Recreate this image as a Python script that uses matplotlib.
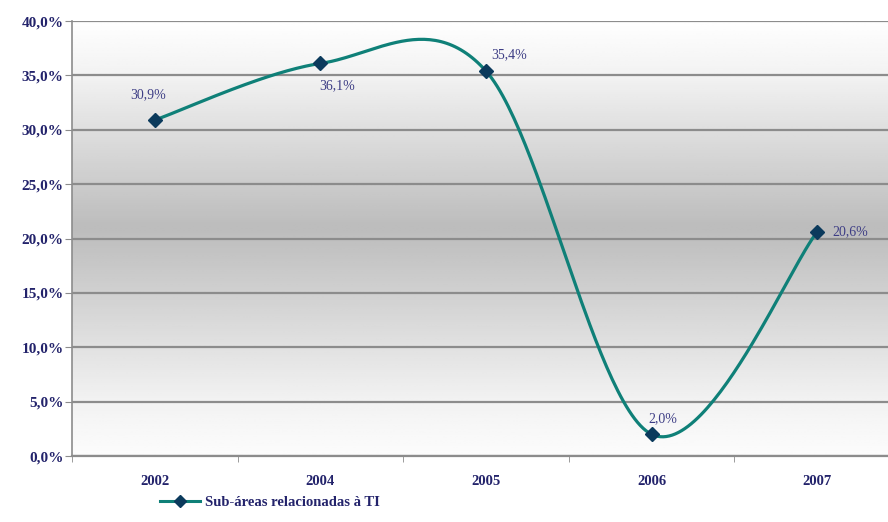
import matplotlib
matplotlib.use("Agg")
import matplotlib.pyplot as plt
import matplotlib.ticker as mticker
from matplotlib.lines import Line2D
import numpy as np

years = ["2002", "2004", "2005", "2006", "2007"]
share = [30.9, 36.1, 35.4, 2.0, 20.6]
labels = ["30,9%", "36,1%", "35,4%", "2,0%", "20,6%"]
# label offsets in points (dx, dy) from each marker
offsets = [(-5, 18), (12, -16), (17, 12), (8, 11), (24, 0)]
series_name = "Sub-áreas relacionadas à TI"

navy = "#23236b"
label_col = "#3d3d85"
teal = "#0f8078"
marker_col = "#0b3a5c"
grid_col = "#8c8c8c"


def smooth(xs, ys, n=60):
    # catmull-rom style bezier segments, end points duplicated
    px = np.array(xs, float)
    py = np.array(ys, float)
    px = np.concatenate([[px[0]], px, [px[-1]]])
    py = np.concatenate([[py[0]], py, [py[-1]]])
    outx, outy = [], []
    t = np.linspace(0, 1, n)
    for i in range(1, len(px) - 2):
        x0, x1, x2, x3 = px[i - 1], px[i], px[i + 1], px[i + 2]
        y0, y1, y2, y3 = py[i - 1], py[i], py[i + 1], py[i + 2]
        c1x, c1y = x1 + (x2 - x0) / 6, y1 + (y2 - y0) / 6
        c2x, c2y = x2 - (x3 - x1) / 6, y2 - (y3 - y1) / 6
        bx = (1 - t) ** 3 * x1 + 3 * (1 - t) ** 2 * t * c1x + 3 * (1 - t) * t ** 2 * c2x + t ** 3 * x2
        by = (1 - t) ** 3 * y1 + 3 * (1 - t) ** 2 * t * c1y + 3 * (1 - t) * t ** 2 * c2y + t ** 3 * y2
        outx.extend(bx)
        outy.extend(by)
    return np.array(outx), np.array(outy)


fig = plt.figure(figsize=(8.88, 5.22), dpi=100)
ax = fig.add_axes([0.0811, 0.1264, 0.9324, 0.8333])

x = np.arange(len(years))
ax.set_xlim(-0.5, len(years) - 0.5)
ax.set_ylim(0, 40)

# vertical grey gradient behind the plot
gy = np.linspace(0, 40, 200)
gv = np.interp(gy, [0, 5, 21, 35, 40], [252, 242, 188, 242, 254]) / 255.0
grad = np.repeat(gv[:, None], 2, axis=1)
ax.imshow(grad, extent=[-0.5, len(years) - 0.5, 0, 40], origin="lower",
          cmap="gray", vmin=0, vmax=1, aspect="auto", zorder=0)

ax.set_axisbelow(True)
ax.yaxis.grid(True, color=grid_col, lw=1.6)
ax.yaxis.set_major_locator(mticker.MultipleLocator(5))
ax.yaxis.set_major_formatter(mticker.FuncFormatter(lambda v, p: ("%.1f" % v).replace(".", ",") + "%"))

sx, sy = smooth(x, share)
ax.plot(sx, sy, color=teal, lw=2.3, zorder=3, solid_capstyle="round")
ax.plot(x, share, ls="none", marker="D", ms=7, color=marker_col, zorder=4)

for xi, yi, lab, off in zip(x, share, labels, offsets):
    ax.annotate(lab, (xi, yi), xytext=off, textcoords="offset points",
                ha="center", va="center", fontsize=10, color=label_col,
                family="Liberation Serif", zorder=5)

ax.set_xticks(x)
ax.set_xticklabels(years)
ax.set_xticks(np.arange(len(years) + 1) - 0.5, minor=True)
ax.tick_params(axis="x", which="major", length=0, pad=14)
ax.tick_params(axis="x", which="minor", length=4, color=grid_col, direction="out")
ax.tick_params(axis="y", length=5, color=grid_col, pad=1)
for t in ax.get_xticklabels():
    t.set_fontsize(10.5)
for t in ax.get_yticklabels():
    t.set_fontsize(11)
for t in ax.get_xticklabels() + ax.get_yticklabels():
    t.set_family("Liberation Serif")
    t.set_fontweight("bold")
    t.set_color(navy)

for s in ["top", "right"]:
    ax.spines[s].set_visible(False)
ax.spines["left"].set_color(grid_col)
ax.spines["bottom"].set_color(grid_col)
ax.spines["left"].set_linewidth(1.2)
ax.spines["bottom"].set_linewidth(1.6)

handle = Line2D([], [], color=teal, lw=2.2, marker="D", ms=6,
                markerfacecolor=marker_col, markeredgecolor=marker_col)
fig.legend([handle], [series_name], loc="center left",
           bbox_to_anchor=(0.165, 0.038), frameon=False, handlelength=2.8,
           handletextpad=0.3, prop={"family": "Liberation Serif", "weight": "bold", "size": 10.5},
           labelcolor=navy)

fig.savefig("out.png", dpi=100, facecolor="white")
